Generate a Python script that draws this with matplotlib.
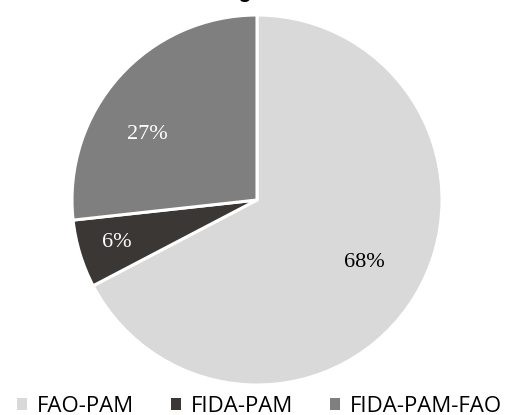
import matplotlib
matplotlib.use("Agg")
import matplotlib.pyplot as plt
import numpy as np

labels = ["FAO-PAM", "FIDA-PAM", "FIDA-PAM-FAO"]
shares = [68, 6, 27]
pct_text = ["68%", "6%", "27%"]
colors = ["#d9d9d9", "#3a3735", "#7f7f7f"]
text_colors = ["#000000", "#ffffff", "#ffffff"]
# label distance from centre (fraction of radius) and angle nudge, like Excel best fit
label_r = [0.67, 0.79, 0.69]
label_shift = [1, 0, 11]

fig = plt.figure(figsize=(5.19, 4.15), dpi=100)
ax = fig.add_axes([72 / 519, 30 / 415, 370 / 519, 370 / 415])

wedges, _ = ax.pie(shares, colors=colors, startangle=90, counterclock=False,
                   wedgeprops=dict(edgecolor="white", linewidth=2.2))
ax.set_xlim(-1, 1)
ax.set_ylim(-1, 1)
ax.set_aspect("auto")

for w, txt, tc, r, sh in zip(wedges, pct_text, text_colors, label_r, label_shift):
    ang = np.deg2rad((w.theta1 + w.theta2) / 2 + sh)
    ax.text(r * np.cos(ang), r * np.sin(ang), txt, ha="center", va="center",
            color=tc, fontsize=16, family="Liberation Serif")

fig.text(0.5, 1 + 2 / 415, "Budget total", ha="center", va="baseline",
         fontsize=15, fontweight="bold", family="Liberation Sans")

leg = fig.legend(wedges, labels, loc="center", ncol=3, frameon=False,
                 bbox_to_anchor=(0.5, 1 - 406 / 415), handlelength=0.45,
                 handleheight=0.45, handletextpad=0.45, columnspacing=1.65,
                 borderaxespad=0, prop=dict(family="Open Sans", size=16))
for h in leg.legend_handles:
    h.set_edgecolor("none")

fig.savefig("out.png", dpi=100)
